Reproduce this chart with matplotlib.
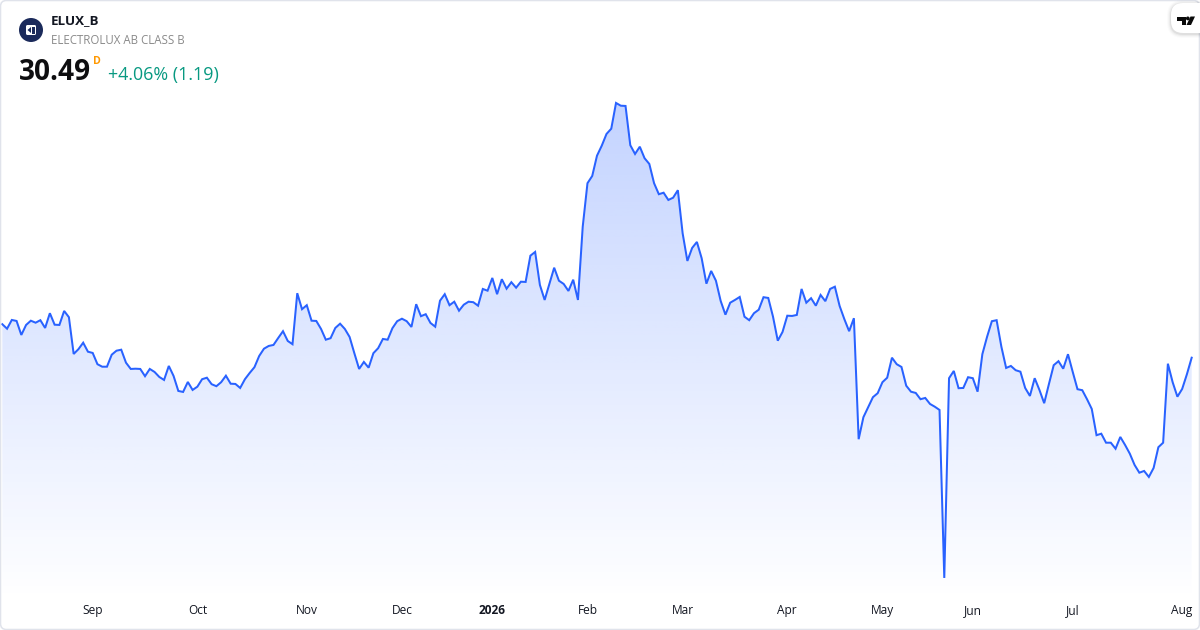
import matplotlib
matplotlib.use("Agg")
import matplotlib.pyplot as plt
import numpy as np
from matplotlib.patches import Circle, FancyBboxPatch, Polygon, Rectangle

plt.rcParams['font.family'] = ['Open Sans', 'DejaVu Sans']

# daily closes
prices = [
    33.17, 32.81, 33.51, 33.43, 32.31, 33.11, 33.45, 33.29, 33.49, 32.87,
    34.05, 33.13, 33.11, 34.23, 33.73, 30.79, 31.17, 31.69, 30.97, 30.87,
    29.97, 29.77, 29.77, 30.73, 31.05, 31.13, 30.09, 29.59, 29.61, 29.59,
    29.01, 29.59, 29.35, 28.95, 28.71, 29.83, 29.03, 27.83, 27.75, 28.55,
    27.91, 28.17, 28.77, 28.89, 28.37, 28.21, 28.53, 29.05, 28.41, 28.39,
    28.07, 28.77, 29.27, 29.73, 30.63, 31.21, 31.43, 31.51, 32.07, 32.61,
    31.83, 31.57, 35.65, 34.37, 34.69, 33.45, 33.43, 32.79, 31.93, 32.05,
    32.87, 33.21, 32.79, 32.15, 30.85, 29.59, 30.15, 29.69, 30.85, 31.25,
    31.99, 31.93, 32.85, 33.41, 33.61, 33.41, 32.95, 34.77, 33.81, 33.97,
    33.27, 32.97, 35.05, 35.57, 34.69, 34.97, 34.25, 34.73, 34.97, 34.93,
    34.65, 35.99, 35.85, 36.87, 35.57, 36.77, 36.01, 36.53, 36.09, 36.57,
    36.55, 38.65, 38.95, 36.31, 35.11, 36.39, 37.69, 36.65, 36.39, 35.83,
    36.73, 35.11, 40.97, 44.45, 45.03, 46.65, 47.45, 48.39, 48.81, 50.87,
    50.65, 50.63, 47.49, 46.79, 47.37, 46.45, 45.99, 44.45, 43.57, 43.69,
    43.11, 43.29, 43.89, 40.45, 38.23, 39.27, 39.75, 38.45, 36.41, 37.43,
    36.65, 35.03, 33.93, 34.89, 35.11, 35.35, 33.77, 33.49, 34.05, 34.33,
    35.33, 35.27, 33.77, 31.85, 32.55, 33.85, 33.83, 33.91, 35.99, 34.89,
    35.25, 34.65, 35.51, 35.01, 35.99, 36.17, 34.63, 33.57, 32.61, 33.65,
    23.97, 25.73, 26.53, 27.33, 27.65, 28.53, 28.89, 30.49, 29.97, 29.75,
    28.25, 27.77, 27.67, 27.17, 27.27, 26.79, 26.57, 26.31, 12.87, 28.85,
    29.43, 28.05, 28.07, 28.93, 28.85, 27.77, 30.77, 32.17, 33.41, 33.49,
    31.37, 29.67, 29.83, 29.49, 29.37, 28.07, 27.43, 28.85, 27.91, 26.85,
    28.39, 29.89, 30.21, 29.61, 30.77, 29.35, 27.97, 27.89, 27.17, 26.39,
    24.29, 24.41, 23.69, 23.69, 23.21, 24.15, 23.51, 22.81, 21.91, 21.29,
    21.43, 20.95, 21.67, 23.33, 23.69, 30.01, 28.53, 27.37, 27.99, 29.17,
    30.49,
]
month_labels = ['Sep', 'Oct', 'Nov', 'Dec', '2026', 'Feb', 'Mar', 'Apr', 'May', 'Jun', 'Jul', 'Aug']
month_bars = [19, 41, 64, 84, 103, 123, 143, 165, 185, 204, 225, 248]

symbol = 'ELUX_B'
company = 'ELECTROLUX AB CLASS B'
last_price = '30.49'
change_text = '+4.06% (1.19)'

LINE = '#2962FF'
TEXT = '#131722'

fig = plt.figure(figsize=(12, 6.3), dpi=100, facecolor='white')
ax = fig.add_axes([0, 0, 1, 1])
ax.set_xlim(-0.483, 251.75)
ax.set_ylim(8.706, 59.106)

x = np.arange(len(prices))

# area under the line, fades out towards the bottom
grad = np.zeros((256, 2, 4))
grad[..., :3] = matplotlib.colors.to_rgb(LINE)
grad[..., 3] = np.linspace(0.28, 0.0, 256)[:, None]
poly = ax.fill_between(x, prices, 8.706, color='none', lw=0)
img = ax.imshow(grad, extent=[x[0], x[-1], 11.0, 51.0], aspect='auto', origin='upper', zorder=1)
clip = poly.get_paths()[0]
img.set_clip_path(clip, transform=ax.transData)
ax.set_xlim(-0.483, 251.75)
ax.set_ylim(8.706, 59.106)

ax.plot(x, prices, color=LINE, lw=1.45, solid_joinstyle='miter', zorder=2)

ax.set_yticks([])
ax.set_xticks(month_bars)
ax.set_xticklabels(month_labels, fontsize=8.6, color=TEXT)
ax.tick_params(axis='x', length=0, pad=-19)
ax.get_xticklabels()[4].set_fontweight('bold')
for s in ax.spines.values():
    s.set_visible(False)

# header and card furniture, in pixels
ui = fig.add_axes([0, 0, 1, 1], facecolor='none')
ui.set_xlim(0, 1200)
ui.set_ylim(630, 0)
ui.axis('off')

ui.add_patch(FancyBboxPatch((0.5, 0.5), 1199, 629, boxstyle='round,pad=0,rounding_size=6',
                            fc='none', ec='#E0E3EB', lw=1.1))

ui.add_patch(Circle((31, 30), 12, fc='#1B2A5B', ec='none'))
ui.add_patch(FancyBboxPatch((26, 25), 10, 10, boxstyle='round,pad=0,rounding_size=1.5', fc='white', ec='none'))
ui.add_patch(Rectangle((32, 26.5), 2.5, 7, fc='#1B2A5B', ec='none'))
ui.add_patch(Polygon([[27.5, 30], [31, 27], [31, 33]], fc='#1B2A5B', ec='none'))

ui.text(51, 21, symbol, fontsize=9.6, fontweight='bold', color=TEXT, va='center', ha='left')
ui.text(51, 41, company, fontsize=8.3, color='#8A8A8A', va='center', ha='left')
ui.text(19, 72, last_price, fontsize=20.2, fontweight='bold', color='#0E0E10', va='center', ha='left')
ui.text(93, 61, 'D', fontsize=7.6, fontweight='bold', color='#FF9800', va='center', ha='left')
ui.text(108, 75, change_text, fontsize=12.9, color='#089981', va='center', ha='left')

# TradingView tag with soft shadow
for grow, alpha in [(4, 0.015), (3, 0.025), (2, 0.035), (1, 0.05)]:
    ui.add_patch(FancyBboxPatch((1171 - grow, 3 - grow + 1), 60, 30 + 2 * grow,
                                boxstyle='round,pad=0,rounding_size=%d' % (12 + grow),
                                fc='black', alpha=alpha, ec='none', clip_on=True))
ui.add_patch(FancyBboxPatch((1171, 3), 60, 30, boxstyle='round,pad=0,rounding_size=12', fc='white', ec='none'))
ui.add_patch(Polygon([[1177, 16.5], [1186, 16.5], [1186, 25], [1182, 25], [1182, 20.5], [1177, 20.5]],
                     fc='#0A0A0A', ec='none'))
ui.add_patch(Circle((1187.8, 18.4), 1.9, fc='#0A0A0A', ec='none'))
ui.add_patch(Polygon([[1190.5, 16.5], [1195, 16.5], [1191, 25], [1186.5, 25]], fc='#0A0A0A', ec='none'))

fig.savefig('out.png', dpi=100)
